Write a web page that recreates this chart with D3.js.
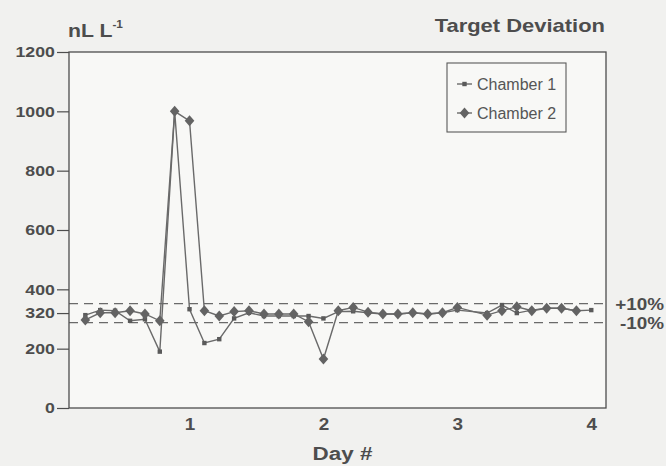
<!DOCTYPE html>
<html>
<head>
<meta charset="utf-8">
<script src="https://cdn.jsdelivr.net/npm/d3@7"></script>
<style>
  body { margin: 0; background: #f1f1ef; }
  svg { display: block; }
</style>
</head>
<body>
<svg id="chart" width="666" height="466"></svg>
<script>
// Sampling times (day number); one reading missing just after day 3
const days = [0.222, 0.333, 0.444, 0.556, 0.667, 0.778, 0.889, 1.000, 1.111,
  1.222, 1.333, 1.444, 1.556, 1.667, 1.778, 1.889, 2.000, 2.111, 2.222, 2.333,
  2.444, 2.556, 2.667, 2.778, 2.889, 3.000, 3.222, 3.333, 3.444, 3.556, 3.667,
  3.778, 3.889, 4.000];

// Concentration, nL L-1
const chamber1 = [313, 330, 328, 294, 299, 190, 1000, 333, 219, 232, 302, 321,
  310, 310, 310, 310, 302, 325, 326, 321, 317, 317, 321, 317, 321, 330,
  320, 347, 320, 330, 336, 336, 328, 330];
const chamber2 = [297, 321, 321, 328, 317, 294, 1000, 968, 328, 310, 325, 328,
  317, 317, 317, 291, 165, 328, 339, 323, 317, 317, 321, 317, 321, 339,
  313, 328, 341, 328, 336, 336, 328, null];

const seriesNames = ["Chamber 1", "Chamber 2"];
const yTicks = [0, 200, 320, 400, 600, 800, 1000, 1200];
const xTicks = [1, 2, 3, 4];
const target = 320;
const band = [0.10, -0.10];
const bandLabels = ["+10%", "-10%"];

const svg = d3.select("#chart");
const plot = { left: 69, right: 606, top: 52, bottom: 408 };

const x = d3.scaleLinear().domain([0.1, 4.11]).range([plot.left, plot.right]);
const y = d3.scaleLinear().domain([0, 1200]).range([plot.bottom, plot.top]);

const ink = "#4d4d4d";
const lineInk = "#6a6a6a";
const boldFont = "'Liberation Sans', Arial, Helvetica, sans-serif";
const sx = 1.18; // printed lettering is set wide

// plot background
svg.append("rect")
  .attr("x", plot.left).attr("y", plot.top)
  .attr("width", plot.right - plot.left).attr("height", plot.bottom - plot.top)
  .attr("fill", "#f8f8f6");

// +/-10% band around the target
band.forEach((b, i) => {
  const v = target * (1 + b);
  svg.append("line")
    .attr("x1", plot.left).attr("x2", plot.right)
    .attr("y1", y(v)).attr("y2", y(v))
    .attr("stroke", lineInk).attr("stroke-width", 1.3)
    .attr("stroke-dasharray", "9,6");
  svg.append("g")
    .attr("transform", `translate(664,${y(v) + 6}) scale(${sx},1)`)
    .append("text")
    .attr("text-anchor", "end")
    .attr("font-family", boldFont).attr("font-weight", "bold")
    .attr("font-size", 16).attr("fill", ink)
    .text(bandLabels[i]);
});

// y axis
const yAxis = svg.append("g")
  .attr("transform", `translate(${plot.left},0)`)
  .call(d3.axisLeft(y).tickValues(yTicks).tickFormat(d3.format("d"))
    .tickSize(12).tickPadding(0));
yAxis.select(".domain").remove();
yAxis.selectAll(".tick line").attr("stroke", ink).attr("stroke-width", 1.2);
yAxis.selectAll(".tick text")
  .attr("font-family", boldFont).attr("font-weight", "bold")
  .attr("font-size", 15).attr("fill", ink)
  .attr("transform", `scale(${sx},1)`);

// x axis (labels only)
const xAxis = svg.append("g")
  .attr("transform", `translate(0,${plot.bottom})`)
  .call(d3.axisBottom(x).tickValues(xTicks).tickFormat(d3.format("d"))
    .tickSize(0).tickPadding(11));
xAxis.select(".domain").remove();
xAxis.selectAll(".tick text")
  .attr("font-family", boldFont).attr("font-weight", "bold")
  .attr("font-size", 16).attr("fill", ink)
  .attr("transform", `scale(${sx},1)`);

// frame
svg.append("rect")
  .attr("x", plot.left).attr("y", plot.top)
  .attr("width", plot.right - plot.left).attr("height", plot.bottom - plot.top)
  .attr("fill", "none").attr("stroke", ink).attr("stroke-width", 1.3);

// series
const rows = days.map((d, i) => ({ day: d, c1: chamber1[i], c2: chamber2[i] }));
const line = key => d3.line()
  .defined(d => d[key] != null)
  .x(d => x(d.day)).y(d => y(d[key]));

const diamond = (cx, cy, w, h) =>
  `M${cx},${cy - h}L${cx + w},${cy}L${cx},${cy + h}L${cx - w},${cy}Z`;

svg.append("path").datum(rows)
  .attr("d", line("c1"))
  .attr("fill", "none").attr("stroke", lineInk).attr("stroke-width", 1.4);
svg.append("g").selectAll("rect")
  .data(rows.filter(d => d.c1 != null))
  .join("rect")
  .attr("x", d => x(d.day) - 2.2).attr("y", d => y(d.c1) - 2.2)
  .attr("width", 4.4).attr("height", 4.4)
  .attr("fill", "#5a5a5a");

svg.append("path").datum(rows)
  .attr("d", line("c2"))
  .attr("fill", "none").attr("stroke", lineInk).attr("stroke-width", 1.4);
svg.append("g").selectAll("path")
  .data(rows.filter(d => d.c2 != null))
  .join("path")
  .attr("d", d => diamond(x(d.day), y(d.c2), 4.8, 5.5))
  .attr("fill", "#636363");

// legend
const lg = svg.append("g");
lg.append("rect")
  .attr("x", 447).attr("y", 63).attr("width", 119).attr("height", 69)
  .attr("fill", "#f8f8f6").attr("stroke", "#5a5a5a").attr("stroke-width", 1.1);
[84, 113].forEach((ly, i) => {
  lg.append("line")
    .attr("x1", 457).attr("x2", 472).attr("y1", ly).attr("y2", ly)
    .attr("stroke", lineInk).attr("stroke-width", 1.4);
  if (i === 0) {
    lg.append("rect").attr("x", 462.3).attr("y", ly - 2.2)
      .attr("width", 4.4).attr("height", 4.4).attr("fill", "#5a5a5a");
  } else {
    lg.append("path").attr("d", diamond(464.5, ly, 4.8, 5.5)).attr("fill", "#636363");
  }
  lg.append("text")
    .attr("x", 477).attr("y", ly + 6)
    .attr("font-family", "'Liberation Sans', Arial, sans-serif")
    .attr("font-size", 16).attr("fill", "#555")
    .text(seriesNames[i]);
});

// titles
const unit = svg.append("g").attr("transform", `translate(68,37) scale(${sx},1)`)
  .append("text")
  .attr("font-family", boldFont).attr("font-weight", "bold")
  .attr("font-size", 18).attr("fill", ink);
unit.append("tspan").text("nL L");
unit.append("tspan").attr("font-size", 10).attr("dy", -9).text("-1");

svg.append("g").attr("transform", `translate(605,32) scale(${sx + 0.04},1)`)
  .append("text")
  .attr("text-anchor", "end")
  .attr("font-family", boldFont).attr("font-weight", "bold")
  .attr("font-size", 18).attr("fill", ink)
  .text("Target Deviation");

svg.append("g").attr("transform", `translate(${(plot.left + plot.right) / 2 + 5},460) scale(${sx},1)`)
  .append("text")
  .attr("text-anchor", "middle")
  .attr("font-family", boldFont).attr("font-weight", "bold")
  .attr("font-size", 19).attr("fill", ink)
  .text("Day #");
</script>
</body>
</html>
